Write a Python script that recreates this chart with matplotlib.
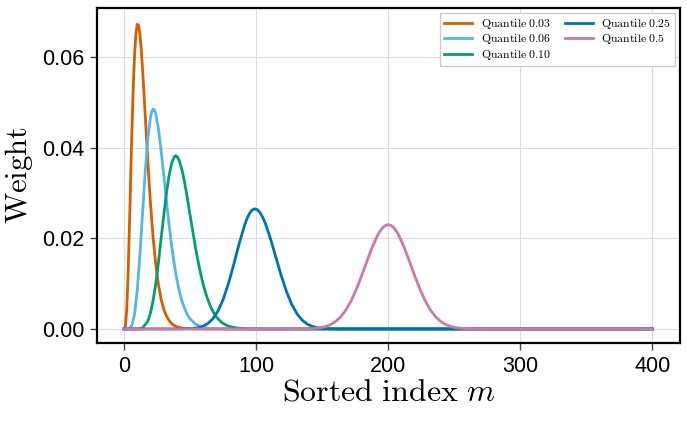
import matplotlib
matplotlib.use("Agg")
import matplotlib.pyplot as plt

plt.rcParams['mathtext.fontset'] = 'cm'
plt.rcParams['font.family'] = ['Liberation Sans', 'DejaVu Sans']

# valores (indice m, peso)
m_q03 = [0, 1, 2, 3, 4, 5, 6, 7, 8, 9, 10, 11, 12, 13, 14, 15, 16, 17, 18, 19, 20,
         22, 24, 26, 28, 30, 32, 34, 36, 38, 40, 44, 48, 54, 60, 400]
w_q03 = [0.0, 0.00059, 0.0042, 0.0117, 0.0220, 0.0334, 0.0444, 0.0537, 0.0607, 0.0652,
         0.0672, 0.0670, 0.0650, 0.0617, 0.0573, 0.0524, 0.0472, 0.0420, 0.0369, 0.0321,
         0.0277, 0.0201, 0.0142, 0.0098, 0.0066, 0.0044, 0.0029, 0.0019, 0.0012, 0.00076,
         0.00048, 0.00018, 0.00007, 0.00002, 0.0, 0.0]

m_q06 = [0, 4, 6, 8, 10, 12, 14, 16, 18, 20, 21, 22, 23, 24, 26, 28, 30, 32, 34, 36, 38,
         40, 42, 44, 46, 48, 50, 54, 58, 62, 66, 72, 80, 400]
w_q06 = [0.0, 0.00009, 0.00085, 0.0034, 0.0086, 0.0163, 0.0255, 0.0346, 0.0420, 0.0467,
         0.0480, 0.0485, 0.0483, 0.0475, 0.0442, 0.0395, 0.0341, 0.0285, 0.0232, 0.0184,
         0.0143, 0.0109, 0.0082, 0.0060, 0.0044, 0.0031, 0.0022, 0.0011, 0.0005, 0.00023,
         0.0001, 0.00003, 0.0, 0.0]

m_q10 = [0, 10, 14, 18, 20, 22, 24, 26, 28, 30, 32, 34, 36, 38, 39, 40, 42, 44, 46, 48,
         50, 52, 54, 56, 58, 60, 62, 64, 66, 68, 70, 74, 78, 82, 86, 90, 96, 104, 400]
w_q10 = [0.0, 0.00001, 0.00025, 0.0017, 0.0035, 0.0063, 0.0100, 0.0146, 0.0198, 0.0249,
         0.0298, 0.0337, 0.0365, 0.0380, 0.0382, 0.0381, 0.0370, 0.0349, 0.0321, 0.0287,
         0.0251, 0.0216, 0.0181, 0.0150, 0.0122, 0.0097, 0.0077, 0.0060, 0.0046, 0.0035,
         0.0026, 0.0014, 0.00075, 0.00038, 0.00019, 0.00009, 0.00003, 0.0, 0.0]

m_q25 = [0, 40, 47, 51, 55, 59, 63, 67, 71, 75, 79, 83, 87, 91, 93, 95, 97, 99,
         101, 103, 105, 107, 111, 115, 119, 123, 127, 131, 135, 139, 143, 147, 151, 155,
         159, 168, 400]
w_q25 = [0.0, 0.0, 0.00004, 0.0001, 0.00023, 0.00053, 0.00112, 0.00217, 0.0039, 0.00648,
         0.00997, 0.01417, 0.01863, 0.02266, 0.02427, 0.02548, 0.02624, 0.0265,
         0.02629, 0.02565, 0.02463, 0.02327, 0.01979, 0.01577, 0.01177, 0.00824, 0.00541,
         0.00332, 0.00191, 0.00103, 0.00052, 0.00025, 0.00011, 0.00005, 0.00002, 0.0, 0.0]

m_q50 = [0, 128, 136, 140, 144, 148, 152, 156, 160, 164, 168, 172, 176, 180, 184, 188,
         192, 194, 196, 198, 200, 202, 204, 206, 208, 212, 216, 220, 224, 228, 232, 236,
         240, 244, 248, 252, 256, 260, 264, 272, 400]
w_q50 = [0.0, 0.0, 0.00003, 0.00006, 0.00012, 0.00025, 0.00049, 0.00091, 0.0016, 0.00265,
         0.00417, 0.00623, 0.00881, 0.01181, 0.01501, 0.01809, 0.02067, 0.02166, 0.0224,
         0.02285, 0.0230, 0.02285, 0.0224, 0.02166, 0.02067, 0.01809, 0.01501, 0.01181,
         0.00881, 0.00623, 0.00417, 0.00265, 0.0016, 0.00091, 0.00049, 0.00025, 0.00012,
         0.00006, 0.00003, 0.0, 0.0]

rotulos = ['0.03', '0.06', '0.10', '0.25', '0.5']
cores = ['#D55E00', '#56B4E9', '#009E73', '#0072B2', '#CC79A7']
series = [(m_q03, w_q03), (m_q06, w_q06), (m_q10, w_q10), (m_q25, w_q25), (m_q50, w_q50)]

fig = plt.figure(figsize=(6.87, 4.32), dpi=100)
ax = fig.add_axes([0.1412, 0.206, 0.8486, 0.7755])

for (m, w), rot, cor in zip(series, rotulos, cores):
    ax.plot(m, w, color=cor, lw=2.0, label=r'$\mathrm{Quantile}\;\mathrm{%s}$' % rot,
            solid_joinstyle='round')

ax.set_xlim(-20.5, 421)
ax.set_ylim(-0.0031, 0.0708)
ax.set_xticks([0, 100, 200, 300, 400])
ax.set_yticks([0.0, 0.02, 0.04, 0.06])
ax.set_yticklabels(['0.00', '0.02', '0.04', '0.06'])
ax.grid(True, color='#dcdcdc', lw=0.8)
ax.set_axisbelow(True)

for s in ax.spines.values():
    s.set_linewidth(1.6)
ax.tick_params(labelsize=15.5, length=5, width=1, color='#444444', pad=4)

ax.set_xlabel(r'$\mathrm{Sorted\ index}\ m$', fontsize=23, labelpad=1)
ax.set_ylabel(r'$\mathrm{Weight}$', fontsize=22, labelpad=5)

ax.legend(loc='upper right', ncol=2, fontsize=8.5, handlelength=2.4, frameon=True,
          fancybox=False, edgecolor='#cccccc', framealpha=1, borderpad=0.35,
          labelspacing=0.12, columnspacing=1.2, handletextpad=0.7, borderaxespad=0.4)

fig.savefig('out.png', dpi=100)
